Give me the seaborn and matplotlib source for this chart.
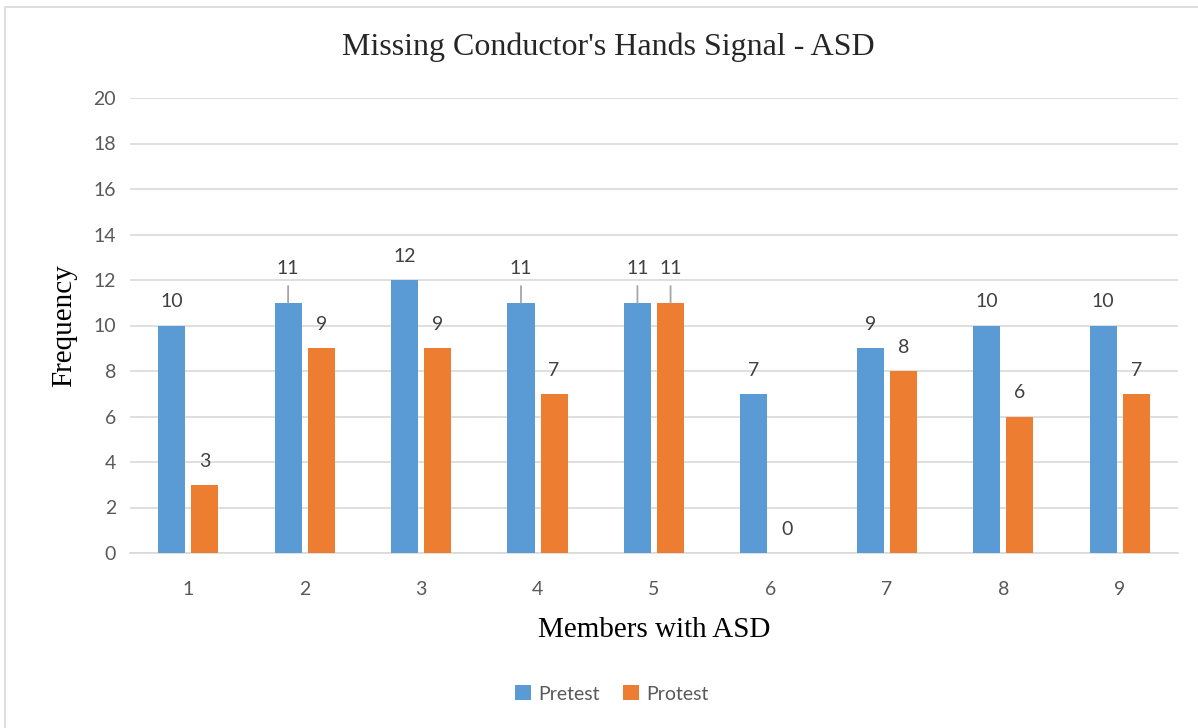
import matplotlib
matplotlib.use("Agg")
import matplotlib.pyplot as plt
import seaborn as sns
import pandas as pd
from matplotlib.patches import Rectangle, Patch

members = ["1", "2", "3", "4", "5", "6", "7", "8", "9"]
pretest = [10, 11, 12, 11, 11, 7, 9, 10, 10]
protest = [3, 9, 9, 7, 11, 0, 8, 6, 7]
series = ["Pretest", "Protest"]
colors = ["#5B9BD5", "#ED7D31"]

df = pd.DataFrame({
    "member": members * 2,
    "value": pretest + protest,
    "series": ["Pretest"] * len(members) + ["Protest"] * len(members),
})

sns.set_theme(style="white")
plt.rcParams["font.family"] = ["Lato", "DejaVu Sans"]

fig = plt.figure(figsize=(11.98, 7.28), dpi=100)
ax = fig.add_axes([130/1198, 1-553/728, 1048/1198, 455/728])

sns.barplot(data=df, x="member", y="value", hue="series", order=members,
            hue_order=series, palette=colors, width=0.569, gap=0.18,
            saturation=1, ax=ax, legend=False, zorder=3, linewidth=0,
            edgecolor="none")

ax.set_ylim(0, 20)
ax.set_xlim(-0.5, len(members) - 0.5)
ax.set_yticks(range(0, 21, 2))
ax.yaxis.grid(True, color="#D9D9D9", linewidth=1.2, zorder=0)
ax.xaxis.grid(False)
for s in ["top", "right", "left"]:
    ax.spines[s].set_visible(False)
ax.spines["bottom"].set_color("#D9D9D9")
ax.spines["bottom"].set_linewidth(1.2)
ax.tick_params(axis="both", length=0, labelsize=14, colors="#595959", pad=10)
ax.tick_params(axis="x", pad=20)

ax.set_xlabel("Members with ASD", fontfamily="Liberation Serif", fontsize=21,
              color="black", labelpad=14)
ax.set_ylabel("Frequency", fontfamily="Liberation Serif", fontsize=21,
              color="black", labelpad=12)
fig.text(608/1198, 1-47/728, "Missing Conductor's Hands Signal - ASD",
         fontfamily="Liberation Serif", fontsize=23, ha="center", va="center")

# data labels (raised ones get leader lines, as in the source)
raised = {("Pretest", 1), ("Pretest", 3), ("Pretest", 4), ("Protest", 4)}
for container, name in zip(ax.containers, series):
    for i, bar in enumerate(container):
        x = bar.get_x() + bar.get_width() / 2
        h = bar.get_height()
        if (name, i) in raised:
            off = 25
            ax.annotate("", xy=(x, h), xytext=(0, 12), textcoords="offset points",
                        xycoords="data",
                        arrowprops=dict(arrowstyle="-", color="#A6A6A6", lw=1.3,
                                        shrinkA=0, shrinkB=0))
        else:
            off = 17
        ax.annotate(f"{int(h)}", xy=(x, h), xytext=(0, off), textcoords="offset points",
                    ha="center", va="center", fontsize=14, color="#404040")

handles = [Patch(facecolor=c, edgecolor="none") for c in colors]
fig.legend(handles, series, loc="center", bbox_to_anchor=(612/1198, 1-694/728),
           ncol=2, frameon=False, fontsize=14, handlelength=0.8, handleheight=0.8,
           columnspacing=1.2, handletextpad=0.4, labelcolor="#595959")

fig.patches.append(Rectangle((5/1198, -0.01), 1.02, 1 - 7/728 + 0.01,
                             transform=fig.transFigure, fill=False,
                             edgecolor="#D9D9D9", linewidth=1.2))

fig.savefig("out.png", dpi=100)
